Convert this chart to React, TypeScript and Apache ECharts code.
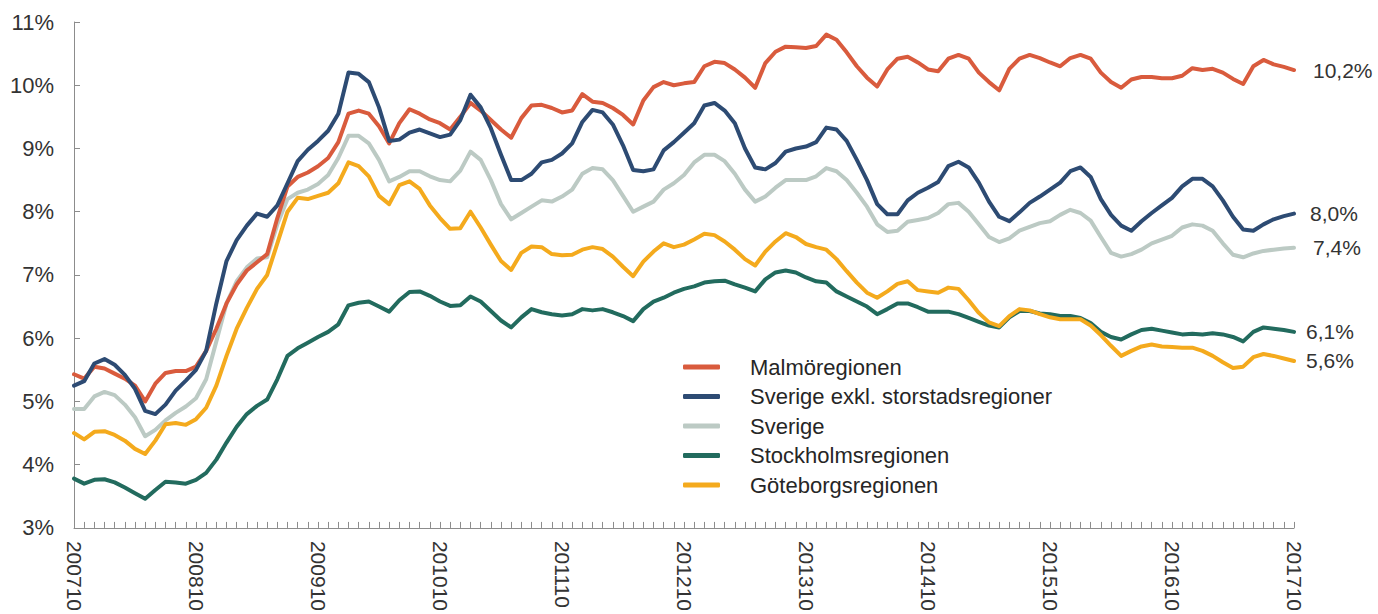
import React, { useEffect, useRef } from "react";
import * as echarts from "echarts";

// Monthly categories, 2007-10 .. 2017-10 (labels shown every 12th month)
const months: string[] = [];
for (let k = 0; k < 121; k++) {
  const m = 10 + k;
  const y = 2007 + Math.floor((m - 1) / 12);
  const mm = ((m - 1) % 12) + 1;
  months.push(`${y}${String(mm).padStart(2, "0")}`);
}

const seriesNames = [
  "Malmöregionen",
  "Sverige exkl. storstadsregioner",
  "Sverige",
  "Stockholmsregionen",
  "Göteborgsregionen",
];

const malmo = [
  5.43, 5.36, 5.55, 5.52, 5.44, 5.36, 5.25, 5.0, 5.28, 5.45, 5.48, 5.48,
  5.55, 5.8, 6.15, 6.55, 6.85, 7.07, 7.2, 7.33, 7.9, 8.4, 8.55, 8.62,
  8.72, 8.85, 9.1, 9.55, 9.6, 9.55, 9.35, 9.08, 9.4, 9.62, 9.55, 9.46,
  9.4, 9.3, 9.5, 9.72, 9.6, 9.45, 9.3, 9.17, 9.48, 9.68, 9.69, 9.64,
  9.57, 9.6, 9.86, 9.74, 9.72, 9.64, 9.53, 9.38, 9.76, 9.97, 10.05, 10.0,
  10.03, 10.05, 10.3, 10.37, 10.35, 10.25, 10.12, 9.96, 10.35, 10.53, 10.61, 10.6,
  10.59, 10.62, 10.8, 10.72, 10.52, 10.3, 10.12, 9.98, 10.25, 10.42, 10.45, 10.36,
  10.25, 10.22, 10.42, 10.48, 10.42, 10.2, 10.05, 9.92, 10.26, 10.42, 10.48, 10.43,
  10.36, 10.3, 10.43, 10.48, 10.42, 10.2, 10.05, 9.96, 10.09, 10.13, 10.13, 10.11,
  10.11, 10.15, 10.27, 10.24, 10.26, 10.2, 10.1, 10.02, 10.3, 10.4, 10.33, 10.29,
  10.24,
];

const sverigeExkl = [
  5.25, 5.32, 5.6, 5.67, 5.58, 5.42, 5.2, 4.85, 4.8, 4.95, 5.17, 5.33,
  5.5, 5.8, 6.55, 7.22, 7.55, 7.78, 7.97, 7.92, 8.1, 8.45, 8.8, 8.98,
  9.12, 9.28, 9.55, 10.2, 10.18, 10.05, 9.65, 9.12, 9.14, 9.25, 9.3, 9.24,
  9.18, 9.22, 9.45, 9.85, 9.65, 9.32, 8.9, 8.5, 8.5, 8.6, 8.78, 8.82,
  8.92, 9.08, 9.42, 9.61, 9.57, 9.38, 9.05, 8.66, 8.64, 8.67, 8.97, 9.1,
  9.25, 9.4, 9.68, 9.72, 9.6, 9.4, 9.0, 8.7, 8.67, 8.77, 8.95, 9.0,
  9.03, 9.1, 9.33, 9.3, 9.12, 8.82, 8.5, 8.12, 7.96, 7.96, 8.18, 8.3,
  8.38, 8.47, 8.72, 8.79, 8.7, 8.46, 8.16, 7.92, 7.85, 7.99, 8.14, 8.24,
  8.35, 8.46, 8.64, 8.7, 8.55, 8.2, 7.95, 7.78, 7.7, 7.85, 7.98, 8.1,
  8.22, 8.4, 8.52, 8.52, 8.4, 8.18, 7.92, 7.72, 7.7, 7.8, 7.88, 7.93,
  7.97,
];

const sverige = [
  4.88, 4.88, 5.08, 5.15, 5.1, 4.95, 4.75, 4.45, 4.55, 4.7, 4.82, 4.92,
  5.05, 5.35, 5.95, 6.55, 6.9, 7.12, 7.26, 7.28, 7.8, 8.2, 8.3, 8.35,
  8.44, 8.58, 8.85, 9.2, 9.2, 9.08, 8.82, 8.48, 8.55, 8.64, 8.64, 8.56,
  8.5, 8.48, 8.65, 8.95, 8.82, 8.5, 8.12, 7.88, 7.98, 8.08, 8.18, 8.16,
  8.24, 8.35, 8.6, 8.69, 8.67, 8.5, 8.25, 8.0, 8.08, 8.16, 8.35, 8.45,
  8.58, 8.78, 8.9, 8.9, 8.8, 8.6, 8.35, 8.16, 8.24, 8.38, 8.5, 8.5,
  8.5, 8.56, 8.69, 8.64, 8.5, 8.3, 8.08, 7.8, 7.68, 7.7, 7.84, 7.87,
  7.9, 7.98, 8.12, 8.14, 8.0, 7.8, 7.6, 7.52, 7.58, 7.7, 7.76, 7.82,
  7.85, 7.95, 8.03, 7.98, 7.86, 7.6, 7.35, 7.29, 7.33, 7.4, 7.5, 7.56,
  7.62, 7.75, 7.8, 7.78, 7.7, 7.5, 7.32, 7.28, 7.34, 7.38, 7.4, 7.42,
  7.43,
];

const stockholm = [
  3.78, 3.7, 3.76, 3.77, 3.72, 3.64, 3.55, 3.46, 3.6, 3.73, 3.72, 3.7,
  3.76, 3.87, 4.08, 4.35, 4.6, 4.8, 4.93, 5.03, 5.35, 5.72, 5.84, 5.93,
  6.02, 6.1, 6.22, 6.52, 6.56, 6.58, 6.5, 6.42, 6.6, 6.73, 6.74, 6.67,
  6.58, 6.51, 6.52, 6.66, 6.58, 6.43, 6.28, 6.17, 6.33, 6.46, 6.41, 6.38,
  6.36, 6.38, 6.46, 6.44, 6.46, 6.41, 6.35, 6.27, 6.46, 6.58, 6.64, 6.72,
  6.78, 6.82, 6.88, 6.9, 6.91, 6.85, 6.8, 6.74, 6.93, 7.04, 7.07, 7.04,
  6.96, 6.9, 6.88, 6.74, 6.66, 6.58, 6.5, 6.38, 6.46, 6.55, 6.55, 6.49,
  6.42, 6.42, 6.42, 6.38, 6.32, 6.26, 6.2, 6.17, 6.33, 6.43, 6.43, 6.39,
  6.38, 6.35, 6.35, 6.32, 6.24, 6.1, 6.02, 5.98, 6.06, 6.13, 6.15, 6.12,
  6.09, 6.06, 6.07, 6.06, 6.08, 6.06, 6.02, 5.95, 6.1, 6.17, 6.15, 6.13,
  6.1,
];

const goteborg = [
  4.5, 4.4, 4.52, 4.53, 4.47, 4.38, 4.25, 4.17, 4.38, 4.64, 4.66, 4.63,
  4.72, 4.9, 5.25, 5.72, 6.15, 6.48, 6.78, 7.0, 7.5, 8.0, 8.22, 8.2,
  8.25, 8.3, 8.45, 8.78, 8.72, 8.56, 8.25, 8.12, 8.42, 8.48, 8.36, 8.1,
  7.9, 7.73, 7.74, 8.0, 7.75, 7.48, 7.22, 7.08, 7.35, 7.45, 7.44, 7.33,
  7.31, 7.32, 7.4, 7.44, 7.41, 7.29, 7.13, 6.98, 7.21, 7.37, 7.5, 7.44,
  7.48, 7.56, 7.65, 7.63, 7.53, 7.4, 7.25, 7.15, 7.37, 7.53, 7.66, 7.6,
  7.49, 7.44, 7.4, 7.25, 7.06, 6.88, 6.72, 6.64, 6.74, 6.86, 6.9, 6.76,
  6.74, 6.72, 6.8, 6.78, 6.6, 6.4, 6.25, 6.19, 6.35, 6.46, 6.44, 6.38,
  6.33, 6.3, 6.3, 6.3, 6.2, 6.05, 5.88, 5.72, 5.8, 5.87, 5.9, 5.87,
  5.86, 5.85, 5.85, 5.8, 5.72, 5.62, 5.53, 5.55, 5.7, 5.75, 5.72, 5.68,
  5.64,
];

const FONT = '"Liberation Sans", Arial, Helvetica, sans-serif';

const fmt = (v: number) => v.toFixed(1).replace(".", ",") + "%";

function lineSeries(
  name: string,
  data: number[],
  color: string,
  distance: number,
  liftPx: number
) {
  return {
    name,
    type: "line",
    data,
    showSymbol: false,
    symbol: "none",
    color,
    itemStyle: { color },
    lineStyle: { color, width: 4, cap: "round", join: "round" },
    emphasis: { disabled: true },
    endLabel: {
      show: true,
      distance,
      formatter: (p: any) => fmt(Number(p.value)),
      fontSize: 21,
      fontFamily: FONT,
      color: "#333333",
      padding: [0, 0, liftPx * 2, 0],
    },
  };
}

export default function App() {
  const ref = useRef<HTMLDivElement>(null);

  useEffect(() => {
    if (!ref.current) return;
    const chart = echarts.init(ref.current, undefined, { renderer: "svg" });
    const option: any = {
      animation: false,
      backgroundColor: "#ffffff",
      textStyle: { fontFamily: FONT },
      grid: { left: 74, right: 84, top: 22, bottom: 85, containLabel: false },
      legend: {
        orient: "vertical",
        left: 678,
        top: 351,
        itemWidth: 37,
        itemHeight: 5,
        itemGap: 7.5,
        icon: "roundRect",
        data: seriesNames,
        textStyle: {
          fontSize: 22,
          color: "#262626",
          fontFamily: FONT,
          padding: [0, 0, 0, 25],
        },
        selectedMode: false,
      },
      xAxis: {
        type: "category",
        data: months,
        boundaryGap: false,
        axisLine: { lineStyle: { color: "#8c8c8c", width: 1 } },
        axisTick: {
          inside: true,
          length: 6,
          interval: 0,
          lineStyle: { color: "#8c8c8c" },
        },
        axisLabel: {
          interval: 11,
          rotate: -90,
          fontSize: 21,
          color: "#333333",
          margin: 13,
          fontFamily: FONT,
        },
        splitLine: { show: false },
      },
      yAxis: {
        type: "value",
        min: 3,
        max: 11,
        interval: 1,
        axisLine: { show: true, lineStyle: { color: "#8c8c8c", width: 1 } },
        axisTick: {
          show: true,
          inside: true,
          length: 6,
          lineStyle: { color: "#8c8c8c" },
        },
        axisLabel: {
          formatter: "{value}%",
          fontSize: 22,
          color: "#333333",
          margin: 20,
          fontFamily: FONT,
        },
        splitLine: { show: false },
      },
      series: [
        lineSeries(seriesNames[2], sverige, "#BCCAC4", 19, 4),
        lineSeries(seriesNames[0], malmo, "#D95B3D", 19, 5),
        lineSeries(seriesNames[3], stockholm, "#226B5E", 12, 7),
        lineSeries(seriesNames[4], goteborg, "#F4AA1D", 12, 0),
        lineSeries(seriesNames[1], sverigeExkl, "#2D4B73", 16, 11),
      ],
    };
    chart.setOption(option);
    return () => chart.dispose();
  }, []);

  return (
    <div
      ref={ref}
      style={{ position: "absolute", left: 0, top: 0, width: 1378, height: 614 }}
    />
  );
}
